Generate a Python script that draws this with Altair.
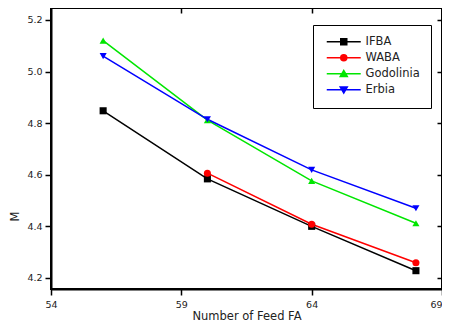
import altair as alt
import pandas as pd

# ---- data ----
feed_fa = [56, 60, 64, 68]
series_names = ["IFBA", "WABA", "Godolinia", "Erbia"]
ifba = [4.848, 4.584, 4.400, 4.228]
waba = [None, 4.606, 4.408, 4.259]
godolinia = [5.120, 4.812, 4.576, 4.412]
erbia = [5.060, 4.815, 4.619, 4.470]
colors = ["#000000", "#ff0000", "#00e600", "#0000ff"]
shapes = ["square", "circle", "triangle-up", "triangle-down"]

x_major = [54, 59, 64, 69]
x_minor = [56.5, 61.5, 66.5]
y_major = [4.2, 4.4, 4.6, 4.8, 5.0, 5.2]
y_minor = [4.3, 4.5, 4.7, 4.9, 5.1]

rows = []
for name, vals in zip(series_names, [ifba, waba, godolinia, erbia]):
    for xv, yv in zip(feed_fa, vals):
        if yv is not None:
            rows.append({"x": xv, "M": yv, "series": name})
df = pd.DataFrame(rows)

# legend-only data (points lie outside the domain and are clipped)
legend_df = pd.DataFrame({"x": [50] * 4, "M": [4.0] * 4, "series": series_names})

# legend symbols: line segment with a marker in the middle (units of 3px)
legend_paths = [
    "M-1,0H10.33M3.67,-1H5.67V1H3.67Z",
    "M-1,0H10.33M3.67,0A1,1 0 1,0 5.67,0A1,1 0 1,0 3.67,0Z",
    "M-1,0H10.33M3.5,0.9L5.84,0.9L4.67,-1.1Z",
    "M-1,0H10.33M3.5,-0.9L5.84,-0.9L4.67,1.1Z",
]

xs = alt.Scale(domain=[54, 69], nice=False, zero=False)
ys = alt.Scale(domain=[4.157, 5.2465], nice=False, zero=False)
cs = alt.Scale(domain=series_names, range=colors)

lab = dict(labelFont="DejaVu Sans", labelFontSize=9.5, labelColor="#222222")

lines = alt.Chart(df).mark_line(strokeWidth=1.5).encode(
    x=alt.X("x:Q", scale=xs, axis=alt.Axis(
        values=x_major, title="Number of Feed FA", titleFont="DejaVu Sans",
        titleFontSize=11.5, titleFontWeight="normal", titleColor="#222222",
        titlePadding=2, tickSize=6, tickWidth=1.5, tickColor="black",
        domainColor="black", domainWidth=2, labelPadding=4, grid=False,
        format="d", labelFlush=False,
        labelAlign={"condition": {"test": "datum.value == 69", "value": "right"}, "value": "center"},
        **lab)),
    y=alt.Y("M:Q", scale=ys, axis=alt.Axis(
        values=y_major, title="M", titleFont="DejaVu Sans", titleFontSize=11.5,
        titleFontWeight="normal", titleColor="#222222", titleX=-36, titleY=208,
        titleBaseline="middle", titleAlign="center",
        tickSize=6, tickWidth=1.5, tickColor="black", domainColor="black",
        domainWidth=2, labelPadding=3, grid=False, format=".1f", **lab)),
    color=alt.Color("series:N", scale=cs, legend=None),
)

points = alt.Chart(df).mark_point(filled=True, size=50, opacity=1).encode(
    x=alt.X("x:Q", scale=xs, axis=alt.Axis(
        values=x_minor, labels=False, domain=False, title=None, tickSize=5,
        tickWidth=1.5, tickColor="black", grid=False)),
    y=alt.Y("M:Q", scale=ys, axis=alt.Axis(
        values=y_minor, labels=False, domain=False, title=None, tickSize=2,
        tickWidth=2, tickColor="black", grid=False)),
    color=alt.Color("series:N", scale=cs, legend=None),
    shape=alt.Shape("series:N", scale=alt.Scale(domain=series_names, range=shapes), legend=None),
)

legend_layer = alt.Chart(legend_df).mark_point(filled=True, size=36, opacity=1, clip=True).encode(
    x=alt.X("x:Q", scale=xs, axis=alt.Axis(
        values=x_major[1:3], labels=False, domain=False, title=None, tickSize=5,
        tickWidth=1.5, tickColor="black", grid=False, orient="top", offset=-5)),
    y=alt.Y("M:Q", scale=ys, axis=alt.Axis(
        values=y_major, labels=False, domain=False, title=None, tickSize=5,
        tickWidth=1.5, tickColor="black", grid=False, orient="right", offset=-5)),
    color=alt.Color("series:N", scale=cs, legend=alt.Legend(
        title=None, orient="none", legendX=262, legendY=17, padding=11,
        strokeColor="black", fillColor="white", symbolSize=36,
        symbolStrokeWidth=1.5, labelOffset=30, rowPadding=3,
        labelFont="DejaVu Sans", labelFontSize=11.5, labelColor="#222222")),
    stroke=alt.Stroke("series:N", scale=cs, legend=alt.Legend(title=None)),
    shape=alt.Shape("series:N", scale=alt.Scale(domain=series_names, range=legend_paths),
                    legend=alt.Legend(title=None)),
)

chart = alt.layer(lines, points, legend_layer).resolve_scale(
    color="independent", shape="independent", stroke="independent"
).resolve_axis(x="independent", y="independent").properties(
    width=391, height=281,
    autosize=alt.AutoSizeParams(type="none"),
    padding={"left": 43, "top": 0, "right": 0, "bottom": 35},
).configure_view(stroke="black", strokeWidth=2)

chart.save("out.html", embed_options={"renderer": "svg", "actions": False})
